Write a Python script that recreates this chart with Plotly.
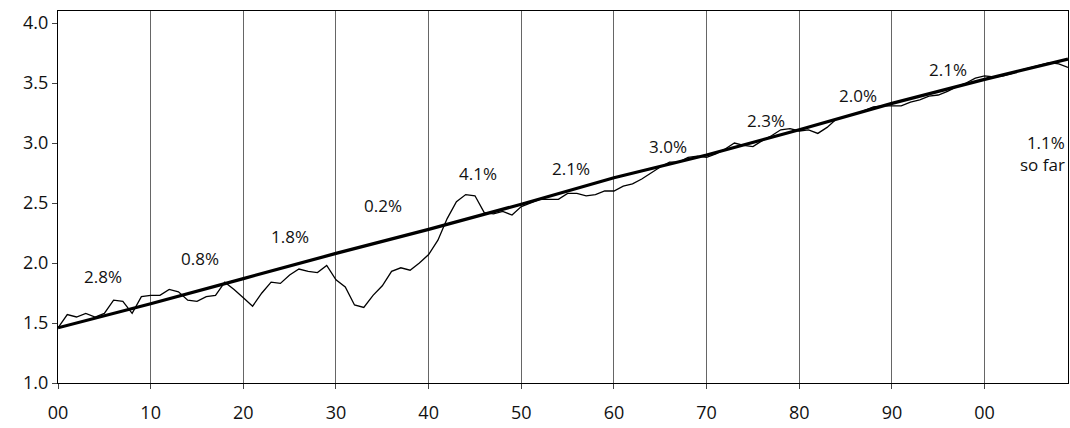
import plotly.graph_objects as go

years = list(range(1900, 2010))
actual = [1.46,1.57,1.55,1.58,1.55,1.58,1.69,1.68,1.58,1.72,
          1.73,1.73,1.78,1.76,1.69,1.68,1.72,1.73,1.84,1.78,
          1.71,1.64,1.75,1.84,1.83,1.90,1.95,1.93,1.92,1.98,
          1.86,1.80,1.65,1.63,1.73,1.81,1.93,1.96,1.94,2.00,
          2.07,2.19,2.37,2.51,2.57,2.56,2.42,2.41,2.43,2.40,
          2.47,2.50,2.53,2.53,2.53,2.58,2.58,2.56,2.57,2.60,
          2.60,2.64,2.66,2.70,2.75,2.80,2.84,2.84,2.88,2.89,
          2.88,2.91,2.95,3.00,2.98,2.97,3.02,3.06,3.11,3.12,
          3.10,3.11,3.08,3.13,3.20,3.22,3.24,3.27,3.30,3.31,
          3.31,3.31,3.34,3.36,3.39,3.40,3.43,3.47,3.50,3.54,
          3.56,3.55,3.56,3.58,3.61,3.63,3.65,3.67,3.66,3.63]
trend_years = [1900,1910,1920,1930,1940,1950,1960,1970,1980,1990,2000,2009]
trend = [1.46,1.66,1.87,2.08,2.28,2.49,2.71,2.90,3.11,3.33,3.53,3.70]
labels = ["2.8%","0.8%","1.8%","0.2%","4.1%","2.1%","3.0%","2.3%","2.0%","2.1%","1.1%<br>so far"]
label_x = [1904.9,1915.3,1925.0,1935.1,1945.3,1955.4,1965.8,1976.4,1986.3,1996.0,2008.9]
label_y = [1.89,2.04,2.22,2.48,2.75,2.79,2.97,3.19,3.40,3.61,2.91]
label_anchor = ["center"]*10 + ["right"]
tick_vals = [1900,1910,1920,1930,1940,1950,1960,1970,1980,1990,2000]
tick_text = ["00","10","20","30","40","50","60","70","80","90","00"]

fig = go.Figure()
fig.add_trace(go.Scatter(x=years, y=actual, mode="lines", line=dict(color="black", width=1.3)))
fig.add_trace(go.Scatter(x=trend_years, y=trend, mode="lines", line=dict(color="black", width=3.2)))
for t, x, y, a in zip(labels, label_x, label_y, label_anchor):
    fig.add_annotation(x=x, y=y, text=t, showarrow=False, xanchor=a, align="right",
                       font=dict(size=17, color="#111"))
fig.update_layout(
    width=1070, height=428, showlegend=False,
    margin=dict(l=58, r=2, t=11, b=45),
    plot_bgcolor="white", paper_bgcolor="white",
    font=dict(family="Open Sans", size=18, color="#111"),
    xaxis=dict(range=[1900, 2009], tickvals=tick_vals, ticktext=tick_text, automargin=False,
               showgrid=True, gridcolor="#666", gridwidth=0.8, showline=True, mirror=True,
               linecolor="black", ticks="outside", ticklen=5, ticklabelstandoff=8, zeroline=False),
    yaxis=dict(range=[1.0, 4.1], tickvals=[1.0,1.5,2.0,2.5,3.0,3.5,4.0], tickformat=".1f",
               automargin=False, showgrid=False, showline=True, mirror=True, linecolor="black",
               ticks="outside", ticklen=5, zeroline=False),
)
fig.write_html("out.html", config={"displayModeBar": False},
               post_script="document.body.style.margin='0';document.body.style.overflow='hidden';")
